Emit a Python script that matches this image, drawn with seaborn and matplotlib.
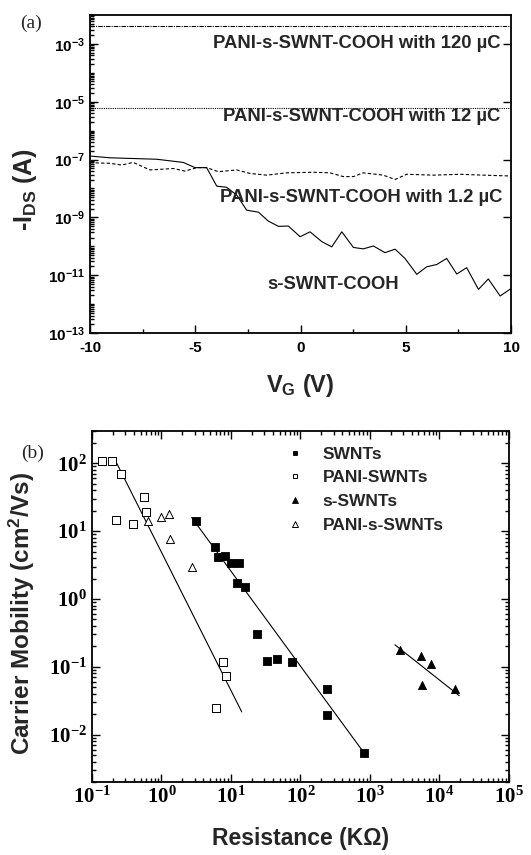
import numpy as np
import matplotlib
matplotlib.use("Agg")
import matplotlib.pyplot as plt
import seaborn as sns
from matplotlib.ticker import LogLocator, NullFormatter, FixedLocator, MultipleLocator
from matplotlib.lines import Line2D

sns.set_theme(style="ticks")
plt.rcParams['font.family'] = ['Liberation Sans', 'DejaVu Sans']
plt.rcParams['axes.unicode_minus'] = False
plt.rcParams['mathtext.default'] = 'regular'

# ---- panel (a): transfer curves ----
vg_flat = [-10, 10]
ids_120uC = [4.2e-3, 4.2e-3]
ids_12uC = [6.0e-6, 6.0e-6]

vg_12uC_dash = [-10, -9.05, -8.5, -7.95, -7.15, -6.04, -5.49, -4.93, -4.46, -3.90,
                -3.03, -2.40, -1.61, -0.66, 0.61, 1.40, 2.03, 2.51, 2.98, 3.93,
                4.49, 5.04, 6.31, 7.58, 8.69, 10]
log_12uC_dash = [-7.11, -7.13, -7.19, -7.10, -7.36, -7.31, -7.40, -7.28, -7.28, -7.42,
                 -7.36, -7.48, -7.54, -7.46, -7.44, -7.46, -7.59, -7.59, -7.46, -7.54,
                 -7.69, -7.51, -7.54, -7.51, -7.54, -7.57]

vg_bare = [-10, -9.05, -6.83, -5.57, -5.01, -4.46, -3.98, -3.51, -3.03, -2.56,
           -2.00, -1.53, -1.05, -0.58, -0.02, 0.45, 1.01, 1.48, 1.96, 2.51,
           2.98, 3.46, 4.01, 4.49, 4.96, 5.52, 5.99, 6.47, 6.94, 7.42,
           7.89, 8.45, 8.92, 9.48, 10]
log_bare = [-6.88, -6.94, -6.99, -7.10, -7.28, -7.28, -7.92, -7.96, -8.23, -8.75,
            -8.82, -9.13, -9.31, -9.30, -9.67, -9.50, -9.84, -10.02, -9.50, -10.04,
            -10.09, -9.99, -10.22, -10.10, -10.42, -10.97, -10.71, -10.63, -10.42, -10.96,
            -10.74, -11.49, -11.13, -11.72, -11.46]

# ---- panel (b): mobility vs resistance ----
r_swnt = [3.17, 5.89, 6.56, 8.2, 10.0, 13.0, 12.1, 16.1, 23.4, 32.7, 45.5, 74.7, 243, 243, 820]
mu_swnt = [14.0, 5.75, 4.15, 4.34, 3.42, 3.42, 1.70, 1.52, 0.306, 0.121, 0.132, 0.117, 0.047, 0.0197, 0.00538]

r_pani_swnt = [0.138, 0.192, 0.259, 0.566, 0.593, 0.219, 0.393, 7.75, 8.4, 6.08]
mu_pani_swnt = [108, 107, 69, 32, 19.2, 14.4, 12.8, 0.117, 0.074, 0.0244]

r_sswnt = [2700, 5360, 7550, 5550, 16900]
mu_sswnt = [0.174, 0.142, 0.111, 0.053, 0.0475]

r_pani_sswnt = [0.645, 0.973, 1.27, 1.31, 2.77]
mu_pani_sswnt = [14.2, 16.2, 17.8, 7.55, 2.99]

fit_pani_r = [0.226, 14.3]
fit_pani_mu = [101, 0.0216]
fit_swnt_r = [2.72, 760]
fit_swnt_mu = [15.9, 0.0060]
fit_sswnt_r = [2290, 19300]
fit_sswnt_mu = [0.211, 0.0375]

fig = plt.figure(figsize=(5.31, 8.55), dpi=100)
ax1 = fig.add_axes([0.1695, 0.6105, 0.793, 0.372])
ax2 = fig.add_axes([0.1733, 0.0854, 0.785, 0.4105])

sans_b = dict(family='Liberation Sans', weight='bold')

# panel (a)
sns.lineplot(x=vg_flat, y=ids_120uC, ax=ax1, color='black', lw=0.8,
             linestyle=(0, (4, 1, 1, 1)), estimator=None, sort=False)
sns.lineplot(x=vg_flat, y=ids_12uC, ax=ax1, color='black', lw=0.8,
             linestyle=(0, (1, 1)), estimator=None, sort=False)
sns.lineplot(x=vg_12uC_dash, y=10 ** np.array(log_12uC_dash), ax=ax1, color='black',
             lw=0.8, linestyle=(0, (3, 2)), estimator=None, sort=False)
sns.lineplot(x=vg_bare, y=10 ** np.array(log_bare), ax=ax1, color='black',
             lw=0.8, estimator=None, sort=False)
ax1.set_yscale('log')
ax1.set_xlim(-10, 10)
ax1.set_ylim(1e-13, 1e-2)
ax1.yaxis.set_major_locator(FixedLocator([10.0 ** e for e in range(-13, -2, 2)]))
ax1.yaxis.set_minor_locator(LogLocator(base=10, subs=np.arange(1, 10), numticks=200))
ax1.yaxis.set_minor_formatter(NullFormatter())
ax1.xaxis.set_major_locator(MultipleLocator(5))
ax1.xaxis.set_minor_locator(MultipleLocator(2.5))
ax1.tick_params(which='both', direction='in', width=1.0, colors='black')
ax1.tick_params(which='major', length=6)
ax1.tick_params(which='minor', length=3)
ax1.tick_params(axis='y', which='major', right=True)
ax1.tick_params(axis='x', pad=6)
for lab in ax1.get_xticklabels() + ax1.get_yticklabels():
    lab.set_fontfamily('Liberation Sans')
    lab.set_fontweight('bold')
    lab.set_fontsize(11)
for sp in ax1.spines.values():
    sp.set_linewidth(1.3)
    sp.set_color('black')
ax1.set_xlabel(r'V$_{\mathdefault{G}}$ (V)', fontsize=17, labelpad=12, **sans_b)
ax1.set_ylabel(r'-I$_{\mathdefault{DS}}$ (A)', fontsize=18, **sans_b)
ax1.yaxis.set_label_coords(-0.12, 0.45)

txt_kw = dict(fontsize=13.3, ha='right', va='center', **sans_b)
ax1.text(9.48, 1.07e-3, 'PANI-s-SWNT-COOH with 120 µC', **txt_kw)
ax1.text(9.48, 2.96e-6, 'PANI-s-SWNT-COOH with 12 µC', **txt_kw)
ax1.text(9.57, 4.7e-9, 'PANI-s-SWNT-COOH with 1.2 µC', **txt_kw)
ax1.text(1.54, 4.6e-12, 's-SWNT-COOH', fontsize=13.3, ha='center', va='center', **sans_b)
fig.text(0.038, 0.973, '(a)', fontsize=14, family='Liberation Serif', va='center')

# panel (b)
sns.lineplot(x=fit_pani_r, y=fit_pani_mu, ax=ax2, color='black', lw=0.8, estimator=None, sort=False)
sns.lineplot(x=fit_swnt_r, y=fit_swnt_mu, ax=ax2, color='black', lw=0.8, estimator=None, sort=False)
sns.lineplot(x=fit_sswnt_r, y=fit_sswnt_mu, ax=ax2, color='black', lw=0.8, estimator=None, sort=False)

sq = 27
tri = 34
sns.scatterplot(x=r_swnt, y=mu_swnt, ax=ax2, marker='s', s=sq, color='black',
                edgecolor='black', linewidth=0.6, zorder=3)
sns.scatterplot(x=r_pani_swnt, y=mu_pani_swnt, ax=ax2, marker='s', s=sq, color='white',
                edgecolor='black', linewidth=0.7, zorder=3)
sns.scatterplot(x=r_sswnt, y=mu_sswnt, ax=ax2, marker='^', s=tri, color='black',
                edgecolor='black', linewidth=0.6, zorder=3)
sns.scatterplot(x=r_pani_sswnt, y=mu_pani_sswnt, ax=ax2, marker='^', s=tri, color='white',
                edgecolor='black', linewidth=0.7, zorder=3)

ax2.set_xscale('log')
ax2.set_yscale('log')
ax2.set_xlim(1e-1, 1e5)
ax2.set_ylim(2e-3, 300)
ax2.xaxis.set_major_locator(LogLocator(base=10, numticks=20))
ax2.yaxis.set_major_locator(FixedLocator([1e-2, 1e-1, 1e0, 1e1, 1e2]))
for axis in (ax2.xaxis, ax2.yaxis):
    axis.set_minor_locator(LogLocator(base=10, subs=np.arange(2, 10), numticks=200))
    axis.set_minor_formatter(NullFormatter())
ax2.tick_params(which='both', direction='in', width=1.0, colors='black',
                top=True, right=True)
ax2.tick_params(which='major', length=6)
ax2.tick_params(which='minor', length=3)
for lab in ax2.get_xticklabels() + ax2.get_yticklabels():
    lab.set_fontfamily('Liberation Serif')
    lab.set_fontweight('bold')
    lab.set_fontsize(15)
for sp in ax2.spines.values():
    sp.set_linewidth(1.3)
    sp.set_color('black')
ax2.set_xlabel('Resistance (KΩ)', fontsize=16.5, labelpad=14, **sans_b)
ax2.set_ylabel(r'Carrier Mobility (cm$^{\mathdefault{2}}$/Vs)', fontsize=17.5, **sans_b)
ax2.yaxis.set_label_coords(-0.132, 0.48)
fig.text(0.04, 0.47, '(b)', fontsize=14, family='Liberation Serif', va='center')

handles = [
    Line2D([], [], ls='none', marker='s', ms=3.2, mfc='black', mec='black', mew=0.6),
    Line2D([], [], ls='none', marker='s', ms=3.2, mfc='white', mec='black', mew=0.7),
    Line2D([], [], ls='none', marker='^', ms=3.8, mfc='black', mec='black', mew=0.6),
    Line2D([], [], ls='none', marker='^', ms=3.8, mfc='white', mec='black', mew=0.7),
]
labels = ['SWNTs', 'PANI-SWNTs', 's-SWNTs', 'PANI-s-SWNTs']
ax2.legend(handles, labels, loc='upper left', bbox_to_anchor=(0.462, 0.956), frameon=False,
           prop=dict(family='Liberation Sans', weight='bold', size=12.5),
           handlelength=1.2, handletextpad=1.0, labelspacing=0.5,
           borderpad=0, borderaxespad=0)

fig.savefig('out.png', dpi=100)
